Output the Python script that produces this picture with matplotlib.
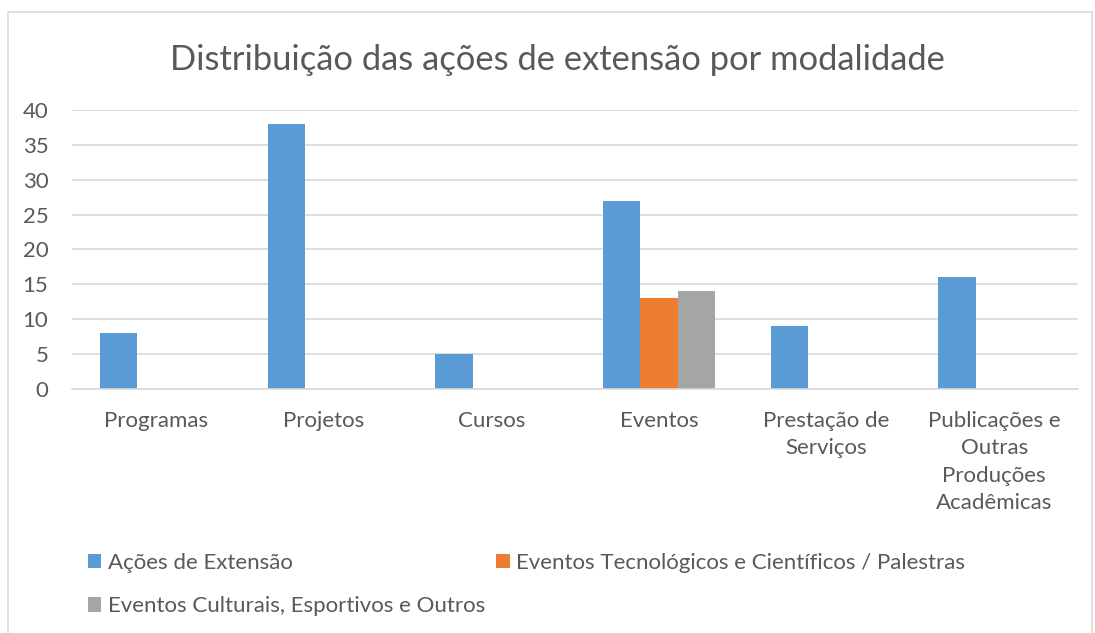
import numpy as np
import matplotlib
matplotlib.use('Agg')
import matplotlib.pyplot as plt
from matplotlib.patches import Rectangle

plt.rcParams['font.family'] = ['Lato', 'DejaVu Sans']

categorias = ['Programas', 'Projetos', 'Cursos', 'Eventos',
              'Prestação de\nServiços',
              'Publicações e\nOutras\nProduções\nAcadêmicas']
acoes = [8, 38, 5, 27, 9, 16]
tecnologicos = [0, 0, 0, 13, 0, 0]
culturais = [0, 0, 0, 14, 0, 0]
series_nomes = ['Ações de Extensão',
                'Eventos Tecnológicos e Científicos / Palestras',
                'Eventos Culturais, Esportivos e Outros']
cores = ['#5B9BD5', '#ED7D31', '#A5A5A5']
texto = '#595959'

fig = plt.figure(figsize=(10.95, 6.33), dpi=100)
ax = fig.add_axes([0.0658, 0.3855, 0.9187, 0.4407])

# moldura do gráfico (estilo Excel)
fig.patches.append(Rectangle((8 / 1095, -0.1), (1092 - 8) / 1095, 1.1 - 12 / 633,
                             transform=fig.transFigure, fill=False,
                             edgecolor='#d9d9d9', linewidth=1.2))

x = np.arange(len(categorias))
w = 0.2225
b1 = ax.bar(x - w, acoes, w, color=cores[0], label=series_nomes[0])
b2 = ax.bar(x, tecnologicos, w, color=cores[1], label=series_nomes[1])
b3 = ax.bar(x + w, culturais, w, color=cores[2], label=series_nomes[2])

ax.set_xlim(-0.5, len(categorias) - 0.5)
ax.set_ylim(0, 40)
ax.set_yticks(range(0, 41, 5))
ax.yaxis.grid(True, color='#d9d9d9', linewidth=1.2)
ax.set_axisbelow(True)
for s in ['top', 'right', 'left']:
    ax.spines[s].set_visible(False)
ax.spines['bottom'].set_color('#d9d9d9')
ax.spines['bottom'].set_linewidth(1.2)
ax.tick_params(axis='both', length=0, labelsize=16, colors=texto)
ax.tick_params(axis='y', pad=17)
ax.tick_params(axis='x', pad=16)
ax.set_xticks(x)
ax.set_xticklabels(categorias, linespacing=1.45)

fig.text(0.5091, 1 - 60 / 633, 'Distribuição das ações de extensão por modalidade',
         ha='center', va='center', fontsize=24.8, color=texto)

leg = fig.legend([b1, b3, b2], [series_nomes[0], series_nomes[2], series_nomes[1]],
                 ncol=2, loc='upper left', bbox_to_anchor=(68 / 1095, 1 - 533 / 633),
                 frameon=False, fontsize=16, handlelength=0.6, handleheight=0.6,
                 handletextpad=0.3, columnspacing=0.5, labelspacing=1.05)
for t in leg.get_texts():
    t.set_color(texto)

fig.savefig('out.png', dpi=100)
